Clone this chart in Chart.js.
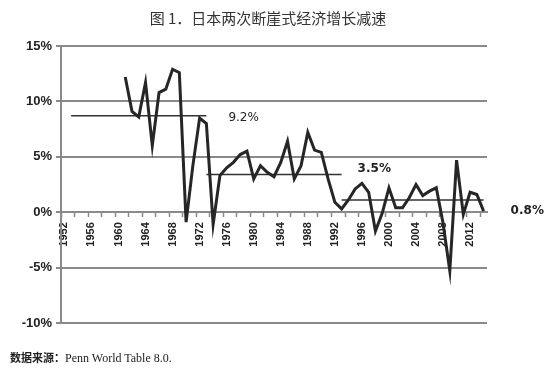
<!DOCTYPE html>
<html>
<head>
<meta charset="utf-8">
<script src="https://cdn.jsdelivr.net/npm/chart.js@4.4.0/dist/chart.umd.min.js"></script>
<style>
  body { margin: 0; background: #fff; }
  #wrap { position: relative; width: 550px; height: 375px; }
  #title { position: absolute; top: 7px; left: 0; width: 536px; text-align: center; font: 15px "Noto Sans CJK SC"; color: #333; }
  #note { position: absolute; left: 10px; top: 349px; font: 12px "Liberation Serif"; color: #222; }
  #note b { font-family: "Noto Sans CJK SC"; font-size: 11px; }
</style>
</head>
<body>
<div id="wrap">
  <div id="title">图 1．日本两次断崖式经济增长减速</div>
  <canvas id="gdpChart"></canvas>
  <div id="note"><b>数据来源：</b>Penn World Table 8.0.</div>
</div>
<script>
// Jahre (Kategorien) und Wachstumsraten in %
const years = [1952, 1953, 1954, 1955, 1956, 1957, 1958, 1959, 1960, 1961,
  1962, 1963, 1964, 1965, 1966, 1967, 1968, 1969, 1970, 1971,
  1972, 1973, 1974, 1975, 1976, 1977, 1978, 1979, 1980, 1981,
  1982, 1983, 1984, 1985, 1986, 1987, 1988, 1989, 1990, 1991,
  1992, 1993, 1994, 1995, 1996, 1997, 1998, 1999, 2000, 2001,
  2002, 2003, 2004, 2005, 2006, 2007, 2008, 2009, 2010, 2011,
  2012, 2013, 2014];

const growth = [null, null, null, null, null, null, null, null, null, 12.2,
  9.1, 8.6, 11.7, 6.0, 10.8, 11.1, 12.9, 12.6, -0.9, 4.2,
  8.5, 8.0, -1.1, 3.3, 4.0, 4.5, 5.2, 5.5, 3.0, 4.2,
  3.6, 3.2, 4.5, 6.4, 3.0, 4.2, 7.2, 5.6, 5.4, 3.0,
  0.9, 0.3, 1.1, 2.1, 2.6, 1.8, -1.7, -0.1, 2.2, 0.4,
  0.4, 1.3, 2.5, 1.5, 1.9, 2.2, -1.0, -5.3, 4.7, -0.2,
  1.8, 1.6, 0.1];

// Durchschnittslinien der drei Phasen
const avgNames = ['9.2%', '3.5%', '0.8%'];
const avgLevels = [8.7, 3.4, 1.1];
const avgFrom = [1953, 1973, 1993];
const avgTo = [1973, 1993, 2014];

// y-Achse
const yTicks = [-10, -5, 0, 5, 10, 15];

const avgDatasets = avgNames.map((name, i) => ({
    label: name,
    data: years.map(y => (y >= avgFrom[i] && y <= avgTo[i]) ? avgLevels[i] : null),
    borderColor: '#333',
    borderWidth: 1.5,
    pointRadius: 0,
    fill: false
}));

// Beschriftung der Durchschnittslinien
const avgLabelPlugin = {
    id: 'avgLabels',
    afterDatasetsDraw(chart) {
        const ctx = chart.ctx;
        const xs = chart.scales.x;
        const ys = chart.scales.y;
        const gaps = [22, 16, 27];
        const dys = [2, -6, 11];
        const fonts = ['12px "DejaVu Sans"', 'bold 12px "DejaVu Sans"', 'bold 12px "DejaVu Sans"'];
        ctx.save();
        ctx.fillStyle = '#222';
        ctx.textBaseline = 'middle';
        ctx.textAlign = 'left';
        avgNames.forEach((name, i) => {
            const x = xs.getPixelForValue(years.indexOf(avgTo[i])) + gaps[i];
            const y = ys.getPixelForValue(avgLevels[i]) + dys[i];
            ctx.font = fonts[i];
            ctx.fillText(name, x, y);
        });
        ctx.restore();
    }
};

new Chart(document.getElementById('gdpChart'), {
    type: 'line',
    data: {
        labels: years,
        datasets: [{
            label: 'growth',
            data: growth,
            borderColor: '#262626',
            borderWidth: 3,
            pointRadius: 0,
            tension: 0,
            fill: false
        }].concat(avgDatasets)
    },
    options: {
        responsive: true,
        maintainAspectRatio: false,
        animation: false,
        layout: { padding: { top: 46, right: 63, bottom: 52, left: 0 } },
        plugins: {
            legend: { display: false },
            tooltip: { enabled: false }
        },
        scales: {
            x: {
                type: 'category',
                position: { y: 0 },
                offset: true,
                grid: {
                    offset: true,
                    drawOnChartArea: false,
                    drawTicks: true,
                    tickLength: 4,
                    tickWidth: 1.5,
                    tickColor: c => (c.index % 2 === 0 ? '#8a8a8a' : 'rgba(0,0,0,0)')
                },
                border: { display: true, color: '#8a8a8a', width: 2 },
                ticks: {
                    autoSkip: false,
                    minRotation: 90,
                    maxRotation: 90,
                    padding: 6,
                    color: '#222',
                    font: { family: 'Liberation Sans', size: 11, weight: 'bold' },
                    callback: function (val, idx) {
                        return years[idx] % 4 === 0 ? String(years[idx]) : '';
                    }
                }
            },
            y: {
                min: yTicks[0],
                max: yTicks[yTicks.length - 1],
                afterBuildTicks: s => { s.ticks = yTicks.map(v => ({ value: v })); },
                afterFit: s => { s.width = 61; },
                grid: { color: '#8a8a8a', lineWidth: 2, tickLength: 5 },
                border: { color: '#8a8a8a', width: 2 },
                ticks: {
                    padding: 4,
                    color: '#222',
                    font: { family: 'Liberation Sans', size: 13, weight: 'bold' },
                    callback: v => v + '%'
                }
            }
        }
    },
    plugins: [avgLabelPlugin]
});
</script>
</body>
</html>
